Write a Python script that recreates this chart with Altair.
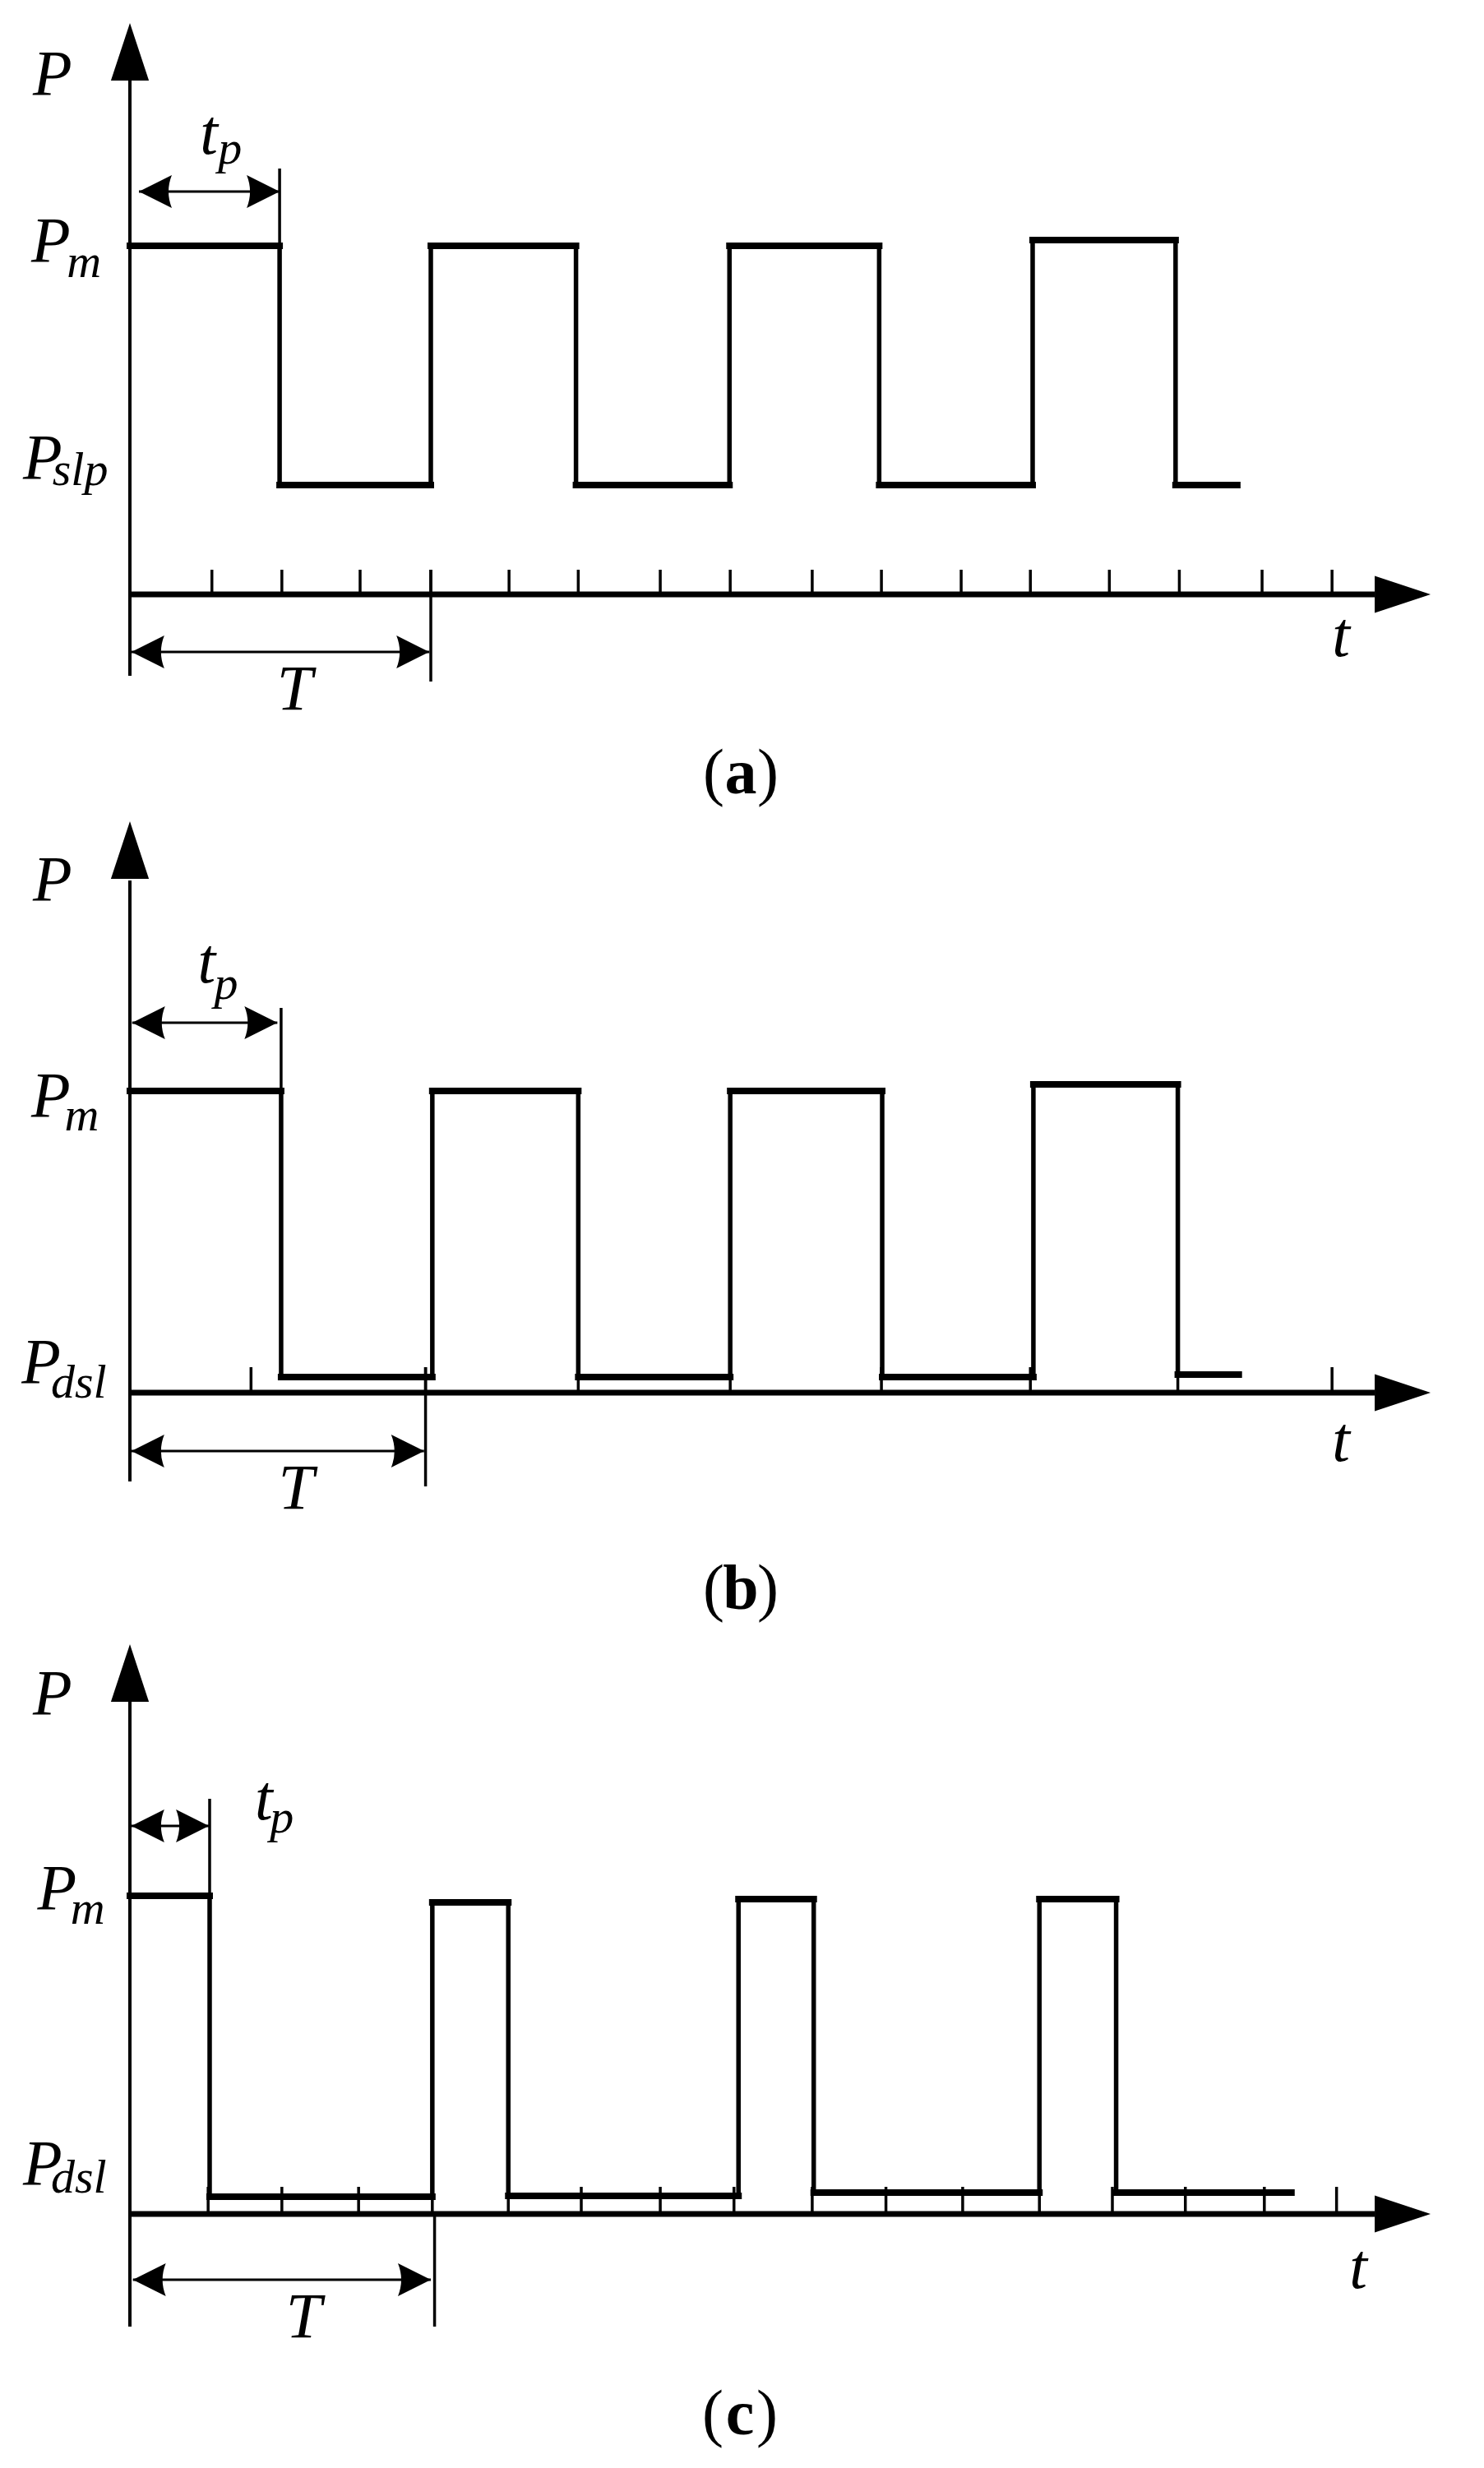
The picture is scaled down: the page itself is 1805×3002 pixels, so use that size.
import altair as alt
import pandas as pd

# ---------------- values ----------------
# time in units of T/4 (ticks), power in arbitrary units (0 = time axis)

# panel (a)
A_EDGES = [1.99, 4.00, 5.93, 7.97, 9.96, 12.00, 13.90]
A_END = 14.72
A_HIGH = [4.24, 4.24, 4.24, 4.31]
A_LOW = [1.33, 1.33, 1.33, 1.33]
A_TICKS = [1.09, 2.02, 3.06, 4.00, 5.04, 5.96, 7.05, 7.98, 9.07, 9.99,
           11.05, 11.97, 13.02, 13.95, 15.05, 15.98]
A_TICK_H = 0.30
A_YAXIS = [-0.99, 6.25, 6.95]          # bottom, arrow base, arrow tip
A_TP = [4.90, 0.12, 1.99]              # y, from, to
A_T = [-0.70, 0.02, 3.98]
A_TP_GUIDE = [1.99, 4.24, 5.18]        # x, y from, y to
A_T_GUIDE = [4.00, 0.30, -1.06]
A_LAB_TEXT = ["P", "P", "m", "t", "p", "P", "slp", "T", "t"]
A_LAB_KIND = ["main", "main", "sub", "main", "sub", "main", "sub", "main", "main"]
A_LAB_X = [-1.03, -1.05, -0.61, 1.05, 1.33, -1.16, -0.66, 2.19, 16.10]
A_LAB_Y = [6.08, 4.05, 3.86, 5.36, 5.24, 1.41, 1.33, -1.40, -0.75]
A_CAP = ["a", 8.12, -2.42]

# panel (b)
B_EDGES = [2.01, 4.02, 5.96, 7.98, 10.00, 12.01, 13.93]
B_END = 14.74
B_HIGH = [3.67, 3.67, 3.67, 3.75]
B_LOW = [0.19, 0.19, 0.19, 0.22]
B_TICKS = [1.61, 3.93, 5.96, 7.98, 9.99, 11.97, 13.93, 15.98]
B_TICK_H = 0.31
B_YAXIS = [-1.08, 6.23, 6.95]
B_TP = [4.50, 0.03, 1.96]
B_T = [-0.71, 0.02, 3.91]
B_TP_GUIDE = [2.01, 3.67, 4.68]
B_T_GUIDE = [3.93, 0.31, -1.14]
B_LAB_TEXT = ["P", "t", "p", "P", "m", "P", "dsl", "T", "t"]
B_LAB_KIND = ["main", "main", "sub", "main", "sub", "main", "sub", "main", "main"]
B_LAB_X = [-1.03, 1.02, 1.28, -1.05, -0.64, -1.18, -0.68, 2.21, 16.10]
B_LAB_Y = [5.99, 4.99, 4.79, 3.36, 3.19, 0.12, -0.06, -1.41, -0.83]
B_CAP = ["b", 8.12, -2.63]

# panel (c)
C_EDGES = [1.06, 4.02, 5.03, 8.09, 9.09, 12.09, 13.11]
C_END = 15.44
C_HIGH = [3.87, 3.79, 3.83, 3.83]
C_LOW = [0.21, 0.22, 0.26, 0.26]
C_TICKS = [1.04, 2.02, 3.04, 4.02, 5.03, 6.00, 7.05, 8.03, 9.07, 10.05,
           11.07, 12.09, 13.06, 14.03, 15.08, 16.04]
C_TICK_H = 0.33
C_YAXIS = [-1.37, 6.26, 6.93]
C_TP = [4.72, 0.02, 1.05]
C_T = [-0.80, 0.04, 4.00]
C_TP_GUIDE = [1.06, 3.87, 5.05]
C_T_GUIDE = [4.05, 0.0, -1.37]
C_LAB_TEXT = ["P", "t", "p", "P", "m", "P", "dsl", "T", "t"]
C_LAB_KIND = ["main", "main", "sub", "main", "sub", "main", "sub", "main", "main"]
C_LAB_X = [-1.03, 1.78, 2.02, -0.97, -0.56, -1.16, -0.68, 2.31, 16.33]
C_LAB_Y = [6.08, 4.80, 4.64, 3.71, 3.53, 0.36, 0.26, -1.50, -0.90]
C_CAP = ["c", 8.11, -2.68]

XAXIS = [16.55, 17.29]  # arrow base, arrow tip

# ---------------- layout (page pixels) ----------------
PAGE_W = 1789
X_ORIGIN_PX = 158 - 8
PX_T = 91.5
PX_P = 100.0
PANEL_TOP = [8, 985, 1985]
PANEL_BOTTOM = [985, 1985, 2994]
PANEL_AXIS = [723, 1694, 2693]

FONT = "Liberation Serif"
UP_HEAD = "M0,0L0.66,2L-0.66,2Z"
RIGHT_HEAD = "M0,0L-2,-0.66L-2,0.66Z"
LEFT_DBL = "M0,0L2,-1Q1.6,0 2,1Z"
RIGHT_DBL = "M0,0L-2,-1Q-1.6,0 -2,1Z"

xs = alt.Scale(domain=[-X_ORIGIN_PX / PX_T, (PAGE_W - X_ORIGIN_PX) / PX_T],
               nice=False, zero=False)


def panel(i, edges, end, high, low, ticks, tick_h, yaxis, tp, T, tp_guide,
          t_guide, lab_text, lab_kind, lab_x, lab_y, cap):
    top, bottom, axis = PANEL_TOP[i], PANEL_BOTTOM[i], PANEL_AXIS[i]
    ys = alt.Scale(domain=[(axis - bottom) / PX_P, (axis - top) / PX_P],
                   nice=False, zero=False)

    def X(f):
        return alt.X(f, type="quantitative", scale=xs, axis=None)

    def Y(f):
        return alt.Y(f, type="quantitative", scale=ys, axis=None)

    levels = []
    for k in range(len(edges) + 1):
        levels.append(high[k // 2] if k % 2 == 0 else low[k // 2])
    starts = [0.0] + list(edges)
    ends = list(edges) + [end]
    horiz = pd.DataFrame({"x": starts, "x2": ends, "y": levels})
    vert = pd.DataFrame({"x": list(edges),
                         "y": [levels[k] for k in range(len(edges))],
                         "y2": [levels[k + 1] for k in range(len(edges))]})

    h_layer = alt.Chart(horiz).mark_rule(color="black", strokeWidth=8, strokeCap="square").encode(
        x=X("x"), x2=alt.X2("x2"), y=Y("y"))
    v_layer = alt.Chart(vert).mark_rule(color="black", strokeWidth=5.5, strokeCap="square").encode(
        x=X("x"), y=Y("y"), y2=alt.Y2("y2"))

    tick_df = pd.DataFrame({"x": ticks, "y": [0.0] * len(ticks), "y2": [tick_h] * len(ticks)})
    tick_layer = alt.Chart(tick_df).mark_rule(color="black", strokeWidth=3.5).encode(
        x=X("x"), y=Y("y"), y2=alt.Y2("y2"))

    guides = pd.DataFrame({"x": [0.0, tp_guide[0], t_guide[0]],
                           "y": [yaxis[0], tp_guide[1], t_guide[1]],
                           "y2": [yaxis[1], tp_guide[2], t_guide[2]],
                           "w": ["axis", "guide", "guide"]})
    guide_layer = alt.Chart(guides).mark_rule(color="black").encode(
        x=X("x"), y=Y("y"), y2=alt.Y2("y2"),
        strokeWidth=alt.StrokeWidth("w:N", scale=alt.Scale(domain=["axis", "guide"], range=[4, 3.5]),
                                    legend=None))

    xaxis_df = pd.DataFrame({"x": [0.0], "x2": [XAXIS[0]], "y": [0.0]})
    xaxis_layer = alt.Chart(xaxis_df).mark_rule(color="black", strokeWidth=7).encode(
        x=X("x"), x2=alt.X2("x2"), y=Y("y"))

    up_head = alt.Chart(pd.DataFrame({"x": [0.0], "y": [yaxis[2]]})).mark_point(
        shape=UP_HEAD, size=4900, filled=True, opacity=1, color="black", strokeWidth=0).encode(
        x=X("x"), y=Y("y"))
    right_head = alt.Chart(pd.DataFrame({"x": [XAXIS[1]], "y": [0.0]})).mark_point(
        shape=RIGHT_HEAD, size=4624, filled=True, opacity=1, color="black", strokeWidth=0).encode(
        x=X("x"), y=Y("y"))

    dbl = pd.DataFrame({"y": [tp[0], T[0]], "x": [tp[1], T[1]], "x2": [tp[2], T[2]]})
    shaft = alt.Chart(dbl).mark_rule(color="black", strokeWidth=3).encode(
        x=X("x"), x2=alt.X2("x2"), y=Y("y"))
    lhead = alt.Chart(dbl).mark_point(shape=LEFT_DBL, size=1600, filled=True, opacity=1,
                                      color="black", strokeWidth=0).encode(x=X("x"), y=Y("y"))
    rhead = alt.Chart(dbl).mark_point(shape=RIGHT_DBL, size=1600, filled=True, opacity=1,
                                      color="black", strokeWidth=0).encode(x=X("x2"), y=Y("y"))

    labels = pd.DataFrame({"text": lab_text, "kind": lab_kind, "x": lab_x, "y": lab_y})
    label_layer = alt.Chart(labels).mark_text(
        font=FONT, fontStyle="italic", align="center", baseline="alphabetic", color="black").encode(
        x=X("x"), y=Y("y"), text="text:N",
        size=alt.Size("kind:N", scale=alt.Scale(domain=["main", "sub"], range=[78, 58]), legend=None))

    cap_df = pd.DataFrame({"x": [cap[1]], "y": [cap[2]]})
    cap_mid = alt.Chart(cap_df).mark_text(font=FONT, fontSize=78, fontWeight="bold", align="center",
                                          baseline="alphabetic", color="black", text=cap[0]).encode(
        x=X("x"), y=Y("y"))
    cap_l = alt.Chart(cap_df).mark_text(font=FONT, fontSize=78, align="center", dx=-33,
                                        baseline="alphabetic", color="black", text="(").encode(
        x=X("x"), y=Y("y"))
    cap_r = alt.Chart(cap_df).mark_text(font=FONT, fontSize=78, align="center", dx=33,
                                        baseline="alphabetic", color="black", text=")").encode(
        x=X("x"), y=Y("y"))

    return alt.layer(guide_layer, xaxis_layer, tick_layer, v_layer, h_layer, up_head, right_head,
                     shaft, lhead, rhead, label_layer, cap_l, cap_mid, cap_r).properties(
        width=PAGE_W, height=bottom - top)


pa = panel(0, A_EDGES, A_END, A_HIGH, A_LOW, A_TICKS, A_TICK_H, A_YAXIS, A_TP, A_T, A_TP_GUIDE,
           A_T_GUIDE, A_LAB_TEXT, A_LAB_KIND, A_LAB_X, A_LAB_Y, A_CAP)
pb = panel(1, B_EDGES, B_END, B_HIGH, B_LOW, B_TICKS, B_TICK_H, B_YAXIS, B_TP, B_T, B_TP_GUIDE,
           B_T_GUIDE, B_LAB_TEXT, B_LAB_KIND, B_LAB_X, B_LAB_Y, B_CAP)
pc = panel(2, C_EDGES, C_END, C_HIGH, C_LOW, C_TICKS, C_TICK_H, C_YAXIS, C_TP, C_T, C_TP_GUIDE,
           C_T_GUIDE, C_LAB_TEXT, C_LAB_KIND, C_LAB_X, C_LAB_Y, C_CAP)

chart = alt.vconcat(pa, pb, pc, spacing=0, padding=0, bounds="flush").resolve_scale(
    x="independent", y="independent").configure(
    background="white", view=alt.ViewConfig(stroke=None, strokeWidth=0))

chart.save("out.html", embed_options={"renderer": "svg", "actions": False})
